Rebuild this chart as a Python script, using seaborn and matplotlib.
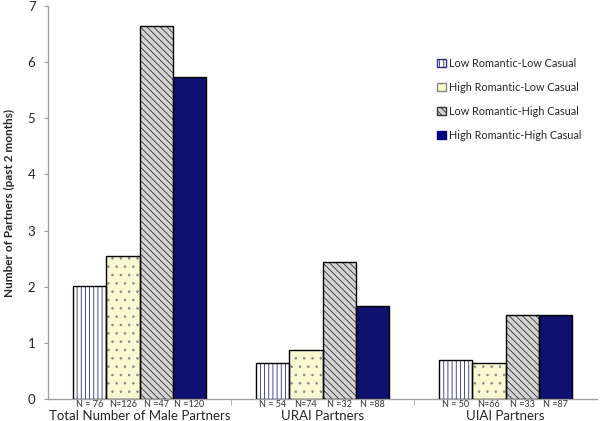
import matplotlib
matplotlib.use("Agg")
import matplotlib.pyplot as plt
import matplotlib.transforms as mtransforms
from matplotlib.patches import Rectangle
import seaborn as sns
import pandas as pd

# data
categories = ["Total Number of Male Partners", "URAI Partners", "UIAI Partners"]
groups = ["Low Romantic-Low Casual", "High Romantic-Low Casual",
          "Low Romantic-High Casual", "High Romantic-High Casual"]
low_low = [2.01, 0.65, 0.70]
high_low = [2.54, 0.87, 0.65]
low_high = [6.64, 2.44, 1.49]
high_high = [5.73, 1.65, 1.49]
n_labels = [["N = 76", "N = 54", "N = 50"],
            ["N=126", "N=74", "N=66"],
            ["N =47", "N =32", "N =33"],
            ["N =120", "N =88", "N =87"]]

rows = []
for g, vals in zip(groups, [low_low, high_low, low_high, high_high]):
    for c, v in zip(categories, vals):
        rows.append({"Outcome": c, "Group": g, "Partners": v})
df = pd.DataFrame(rows)

sns.set_style("white")
plt.rcParams["font.family"] = ["Lato", "DejaVu Sans"]
plt.rcParams["hatch.linewidth"] = 0.6

fills = ["white", "#ffffcc", "#d4d4d4", "#000080"]
hatch_cols = ["#2b2b88", "#888888", "#333333", "#000080"]
hatches = ["||||", "..", "\\\\\\\\\\", ""]

fig = plt.figure(figsize=(6, 4.21), dpi=100)
ax = fig.add_axes([0.08, 0.052, 0.915, 0.934])

sns.barplot(data=df, x="Outcome", y="Partners", hue="Group", order=categories,
            hue_order=groups, palette=fills, width=0.73, ax=ax)

trans = mtransforms.blended_transform_factory(ax.transData, ax.transAxes)
for i, cont in enumerate(ax.containers):
    for j, bar in enumerate(cont):
        bar.set_hatch(hatches[i])
        bar.set_edgecolor(hatch_cols[i])
        bar.set_linewidth(0)
        ax.add_patch(Rectangle(bar.get_xy(), bar.get_width(), bar.get_height(),
                               fill=False, edgecolor="black", linewidth=1.0, zorder=3))
        # N labels just under the axis
        ax.text(bar.get_x() + bar.get_width() / 2, -0.003, n_labels[i][j],
                transform=trans, ha="center", va="top", fontsize=6.5, color="#333333")

ax.set_xlim(-0.5, 2.5)
ax.set_ylim(0, 7)
ax.set_yticks(range(8))
ax.tick_params(axis="y", labelsize=9.5, length=3, color="#a0a0a0", left=True, pad=6)
ax.set_xticks([0, 1, 2])
ax.set_xticklabels(categories, fontsize=9.5)
ax.tick_params(axis="x", length=0, pad=8)
ax.set_xticks([0.5, 1.5], minor=True)
ax.tick_params(axis="x", which="minor", length=4, color="#a0a0a0", bottom=True)
ax.set_xlabel("")
ax.set_ylabel("Number of Partners (past 2 months)", fontsize=8.5, fontweight="bold", labelpad=9)

sns.despine(ax=ax)
for s in ["left", "bottom"]:
    ax.spines[s].set_color("#a0a0a0")
    ax.spines[s].set_linewidth(1)

handles, labels = ax.get_legend_handles_labels()
for h, hc, ht, fc in zip(handles, hatch_cols, hatches, fills):
    h.set_hatch(ht)
    h.set_facecolor(fc)
    h.set_edgecolor(hc)
ax.legend(handles, labels, loc="upper left", bbox_to_anchor=(0.72, 0.876),
          bbox_transform=fig.transFigure, frameon=False, fontsize=7.8,
          handlelength=0.8, handleheight=0.8, handletextpad=0.3, labelspacing=1.2,
          borderpad=0)

fig.savefig("out.png", dpi=100)
